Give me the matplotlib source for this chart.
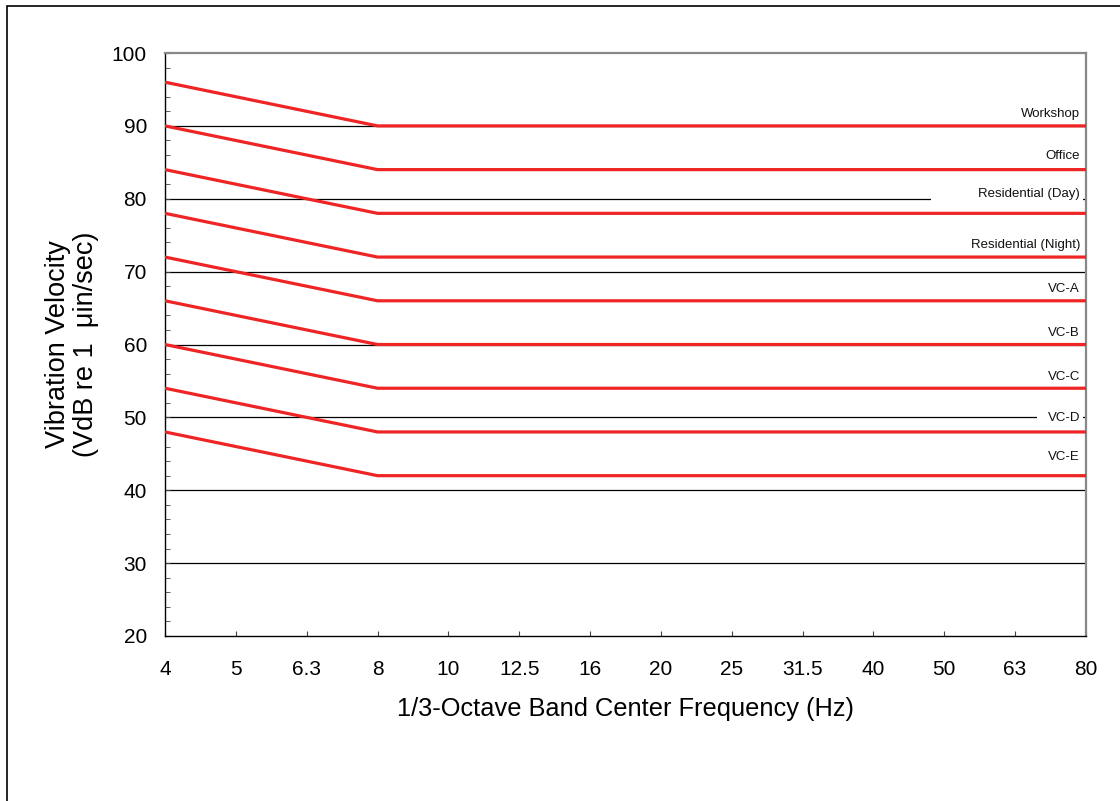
import matplotlib
matplotlib.use("Agg")
import matplotlib.pyplot as plt
from matplotlib.patches import Rectangle
from matplotlib.ticker import MultipleLocator
import matplotlib.transforms as mtransforms

plt.rcParams["font.family"] = ["Liberation Sans", "DejaVu Sans"]

# 1/3-octave band centres shown on the x axis (evenly spaced categories)
bands = ["4", "5", "6.3", "8", "10", "12.5", "16", "20", "25", "31.5", "40", "50", "63", "80"]

# each criterion curve is defined at 4 Hz, 8 Hz and 80 Hz
curve_bands = ["4", "8", "80"]
criteria = ["Workshop", "Office", "Residential (Day)", "Residential (Night)",
            "VC-A", "VC-B", "VC-C", "VC-D", "VC-E"]
curve_values = [
    [96, 90, 90],
    [90, 84, 84],
    [84, 78, 78],
    [78, 72, 72],
    [72, 66, 66],
    [66, 60, 60],
    [60, 54, 54],
    [54, 48, 48],
    [48, 42, 42],
]
# vertical placement of the curve labels (data units)
label_y = [91.7, 85.9, 80.65, 73.65, 67.55, 61.6, 55.6, 49.85, 44.6]

grid_levels = [30, 40, 50, 60, 70, 80, 90]

RED = "#EE2524"

fig = plt.figure(figsize=(11.2, 8.01), dpi=100)
ax = fig.add_axes([0.1473, 0.2060, 0.8223, 0.7278])

for lvl in grid_levels:
    ax.axhline(lvl, color="black", lw=0.9, zorder=1)

# white boxes behind two labels hide part of the grid line, as in the original
ax.axhspan(79.4, 81.6, xmin=0.832, xmax=0.997, color="white", lw=0, zorder=2)
ax.axhspan(49.0, 50.8, xmin=0.947, xmax=0.997, color="white", lw=0, zorder=2)

xpos = [bands.index(b) for b in curve_bands]
for name, vals in zip(criteria, curve_values):
    ax.plot(xpos, vals, color=RED, lw=2.3, solid_capstyle="butt", zorder=3)

trans = mtransforms.blended_transform_factory(ax.transAxes, ax.transData)
for name, y in zip(criteria, label_y):
    ax.text(0.9935, y, name, transform=trans, ha="right", va="center",
            fontsize=9.5, color="#111111", zorder=4)

ax.set_xlim(0, len(bands) - 1)
ax.set_ylim(20, 100)
ax.set_xticks(range(len(bands)))
ax.set_xticklabels(bands)
ax.set_yticks(range(20, 101, 10))
ax.yaxis.set_minor_locator(MultipleLocator(2))

ax.tick_params(axis="both", which="both", direction="in", labelsize=15,
               color="#444444")
ax.tick_params(axis="y", which="major", length=3.5, pad=13)
ax.tick_params(axis="y", which="minor", length=3.5)
ax.tick_params(axis="x", which="major", length=3.5, pad=17)

for side in ["left", "bottom"]:
    ax.spines[side].set_color("black")
    ax.spines[side].set_linewidth(1.0)
for side in ["top", "right"]:
    ax.spines[side].set_color("#888888")
    ax.spines[side].set_linewidth(1.6)

ax.set_xlabel("1/3-Octave Band Center Frequency (Hz)", fontsize=18.3, labelpad=13)
ax.set_ylabel("Vibration Velocity\n(VdB re 1  \u03bcin/sec)", fontsize=19.5,
              labelpad=9, linespacing=1.12)

# outer chart frame (cut off at the right and bottom edges)
fig.add_artist(Rectangle((7 / 1120, -0.2), 1.2, 1.2 - 5.7 / 801, transform=fig.transFigure,
                         fill=False, edgecolor="black", lw=1.2))

fig.savefig("out.png", dpi=100)
